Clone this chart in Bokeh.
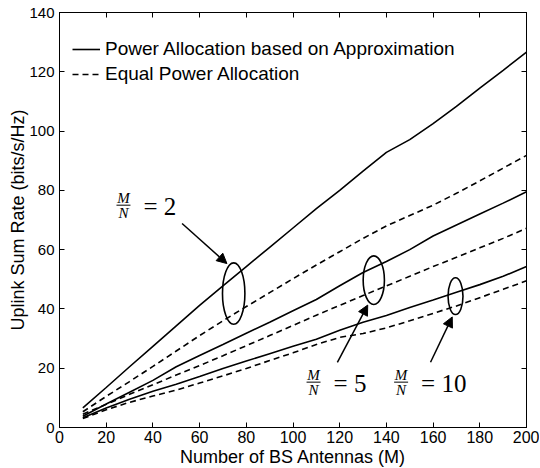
from bokeh.plotting import figure
from bokeh.models import Range1d, LinearAxis, FixedTicker, Legend, LegendItem, Arrow, NormalHead
from bokeh.core.properties import value
from bokeh.embed import file_html
from bokeh.resources import INLINE

# ---- data ----
antennas = [10, 20, 30, 40, 50, 60, 70, 80, 90, 100,
            110, 120, 130, 140, 150, 160, 170, 180, 190, 200]

pa_mn2 = [6.6, 13.5, 20.5, 27.4, 34.3, 41.2, 47.8, 54.3, 60.8, 67.3,
          73.8, 80.0, 86.5, 92.8, 97.1, 102.5, 108.3, 114.5, 120.5, 126.6]
epa_mn2 = [5.3, 10.5, 15.5, 20.6, 25.8, 31.0, 36.0, 40.8, 45.5, 50.2,
           54.8, 59.3, 63.8, 68.0, 71.5, 75.0, 79.0, 83.2, 87.5, 91.8]

pa_mn5 = [3.8, 7.9, 11.9, 15.9, 20.5, 24.3, 28.0, 31.8, 35.5, 39.4,
          43.2, 47.8, 52.3, 56.0, 60.0, 64.6, 68.3, 72.0, 75.7, 79.5]
epa_mn5 = [4.5, 7.8, 11.2, 14.4, 17.7, 20.9, 24.2, 27.6, 31.0, 34.4,
           37.9, 41.2, 44.5, 47.8, 51.0, 54.3, 57.4, 60.6, 63.8, 67.2]

pa_mn10 = [3.3, 6.6, 9.5, 12.2, 14.6, 17.2, 19.9, 22.4, 24.9, 27.4,
           29.8, 32.8, 35.5, 37.8, 40.5, 43.0, 45.6, 48.2, 51.0, 54.3]
epa_mn10 = [3.0, 6.0, 8.5, 10.6, 12.6, 15.0, 17.4, 19.9, 22.6, 25.2,
            28.0, 30.4, 31.7, 33.6, 36.0, 38.5, 41.0, 43.8, 46.6, 49.5]

x_ticks = [0, 20, 40, 60, 80, 100, 120, 140, 160, 180, 200]
y_ticks = [0, 20, 40, 60, 80, 100, 120, 140]

legend_labels = ["Power Allocation based on Approximation", "Equal Power Allocation"]

# annotation: ellipses (data coords)
ell_x = [74.6, 134.6, 169.6]
ell_y = [45.2, 49.7, 44.3]
ell_w = [9.6, 9.1, 6.4]
ell_h = [20.7, 16.4, 12.4]

# annotation: arrows (tail -> tip)
arr_x0 = [52.5, 119.0, 158.9]
arr_y0 = [68.8, 22.0, 22.0]
arr_x1 = [71.7, 132.0, 168.2]
arr_y1 = [55.3, 41.3, 37.3]

# annotation: "M/N = k" labels, anchored at the fraction bar
lab_x = [27.4, 108.8, 146.3]
lab_y = [75.0, 15.3, 15.3]
lab_rhs = ["= 2", "= 5", "= 10"]

FONT = "Liberation Sans"
SERIF = "Liberation Serif"

p = figure(frame_width=467, frame_height=415,
           x_range=Range1d(0, 200), y_range=Range1d(0, 140),
           output_backend="svg", toolbar_location=None,
           min_border_left=59, min_border_right=13,
           min_border_top=12, min_border_bottom=40)

p.xgrid.visible = False
p.ygrid.visible = False
p.outline_line_color = "black"
p.outline_line_alpha = 1.0
p.outline_line_width = 1
p.background_fill_color = "white"
p.border_fill_color = "white"

p.xaxis.ticker = FixedTicker(ticks=x_ticks)
p.yaxis.ticker = FixedTicker(ticks=y_ticks)
p.xaxis.axis_label = "Number of BS Antennas (M)"
p.yaxis.axis_label = "Uplink Sum Rate (bits/s/Hz)"

for ax in [p.xaxis[0], p.yaxis[0]]:
    ax.major_tick_in = 5
    ax.major_tick_out = 0
    ax.minor_tick_in = 0
    ax.minor_tick_out = 0
    ax.axis_line_color = "black"
    ax.major_tick_line_color = "black"
    ax.major_label_text_font = FONT
    ax.major_label_text_color = "black"
    ax.axis_label_text_font = FONT
    ax.axis_label_text_font_size = "18px"
    ax.axis_label_text_font_style = "normal"
    ax.axis_label_text_color = "black"

p.xaxis.major_label_text_font_size = "16px"
p.xaxis.major_label_standoff = 3
p.xaxis.axis_label_standoff = 1
p.yaxis.major_label_text_font_size = "15px"
p.yaxis.major_label_standoff = 5
p.yaxis.axis_label_standoff = -2

# mirrored tick marks on top and right (labels not drawn)
top = LinearAxis(ticker=FixedTicker(ticks=x_ticks), major_tick_in=5, major_tick_out=0,
                 minor_tick_in=0, minor_tick_out=0, major_label_text_color=None,
                 major_label_text_font_size="1px",
                 major_label_standoff=0, axis_line_color="black", major_tick_line_color="black")
right = LinearAxis(ticker=FixedTicker(ticks=y_ticks), major_tick_in=5, major_tick_out=0,
                   minor_tick_in=0, minor_tick_out=0, major_label_text_color=None,
                   major_label_text_font_size="1px",
                   major_label_standoff=0, axis_line_color="black", major_tick_line_color="black")
p.add_layout(top, "above")
p.add_layout(right, "right")

lw = 1.6
dash = "6 4"
r_pa2 = p.line(antennas, pa_mn2, line_color="black", line_width=lw)
r_epa2 = p.line(antennas, epa_mn2, line_color="black", line_width=lw, line_dash=dash)
p.line(antennas, pa_mn5, line_color="black", line_width=lw)
p.line(antennas, epa_mn5, line_color="black", line_width=lw, line_dash=dash)
p.line(antennas, pa_mn10, line_color="black", line_width=lw)
p.line(antennas, epa_mn10, line_color="black", line_width=lw, line_dash=dash)

# ellipses
p.ellipse(x=ell_x, y=ell_y, width=ell_w, height=ell_h,
          fill_color=None, line_color="black", line_width=1.6)

# arrows
for xs, ys, xe, ye in zip(arr_x0, arr_y0, arr_x1, arr_y1):
    p.add_layout(Arrow(end=NormalHead(size=10, fill_color="black", line_color="black"),
                       x_start=xs, y_start=ys, x_end=xe, y_end=ye,
                       line_color="black", line_width=1.5))

# fraction labels
p.scatter(x=lab_x, y=lab_y, marker="dash", size=14, line_color="black", line_width=1)
p.text(x=lab_x, y=lab_y, text=["M"] * 3, y_offset=-7,
       text_font=value(SERIF), text_font_style="italic", text_font_size="15px",
       text_align="center", text_baseline="middle", text_color="black")
p.text(x=lab_x, y=lab_y, text=["N"] * 3, y_offset=8,
       text_font=value(SERIF), text_font_style="italic", text_font_size="15px",
       text_align="center", text_baseline="middle", text_color="black")
p.text(x=lab_x, y=lab_y, text=lab_rhs, x_offset=20, y_offset=1,
       text_font=value(SERIF), text_font_size="25px",
       text_align="left", text_baseline="middle", text_color="black")

legend = Legend(items=[LegendItem(label=legend_labels[0], renderers=[r_pa2]),
                       LegendItem(label=legend_labels[1], renderers=[r_epa2])],
                location=(13, 342), border_line_color=None, background_fill_alpha=0,
                padding=0, margin=0, spacing=3, glyph_width=28, glyph_height=20,
                label_height=20, label_standoff=5,
                label_text_font=FONT, label_text_font_size="19px", label_text_color="black")
p.add_layout(legend)

open("out.html", "w").write(file_html(p, INLINE))
